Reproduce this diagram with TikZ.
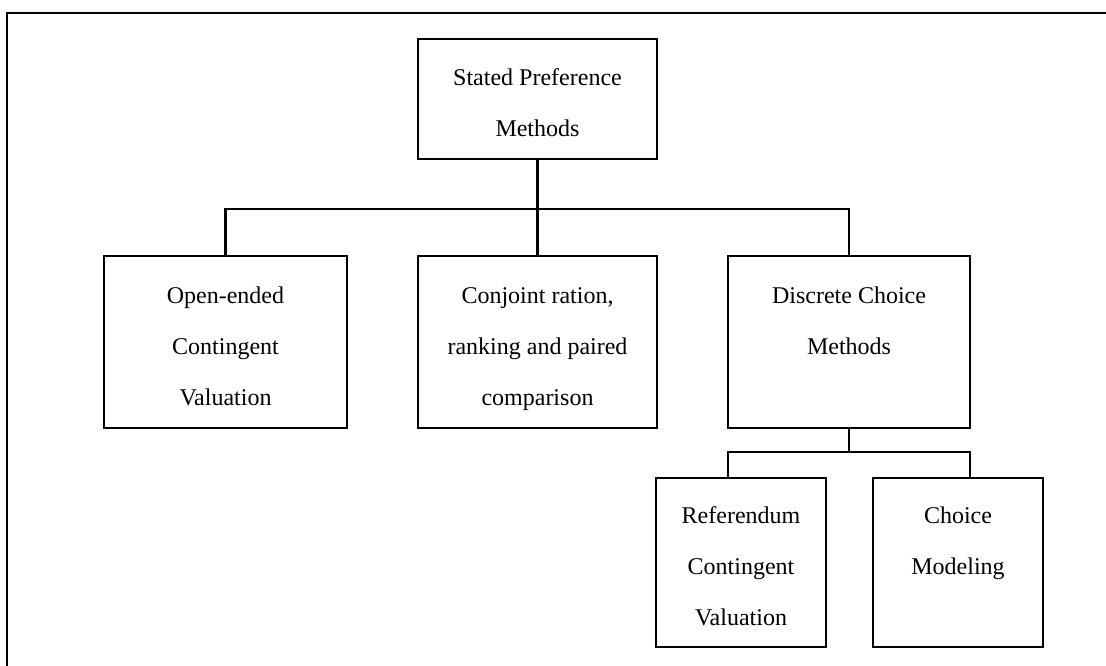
\documentclass[tikz,border=0pt]{standalone}
\usepackage{fontspec}
\setmainfont{Liberation Serif}
\usetikzlibrary{positioning}

\begin{document}
\begin{tikzpicture}[
    x=1pt, y=1pt,
    box/.style={draw, line width=2.2pt, outer sep=0pt, align=center, minimum height=172pt,
      text height=126.5pt, text depth=0pt, font=\fontsize{24}{51}\selectfont},
    link/.style={line width=2.2pt},
  ]
  % Frame
  \useasboundingbox (0,0) rectangle (1106,-666);
  \draw[line width=2.4pt] (7,-670) |- (1110,-13);

  % Root
  \node[box, minimum width=239pt, minimum height=120pt, text height=75.5pt] (spm) at (537.5,-99) {Stated Preference\\Methods};

  % Second level
  \node[box, minimum width=239pt, below=97pt of spm] (conj) {Conjoint ration,\\ranking and paired\\comparison};
  \node[box, minimum width=243pt, left=71pt of conj] (oecv) {Open-ended\\Contingent\\Valuation};
  \node[box, minimum width=242pt, right=71pt of conj] (dcm) {Discrete Choice\\Methods\\\mbox{}};

  % Third level
  \node[box, minimum width=170pt, minimum height=169pt, below=50pt of dcm, xshift=-108pt] (rcv) {Referendum\\Contingent\\Valuation};
  \node[box, minimum width=170pt, minimum height=169pt, right=47pt of rcv] (cmod) {Choice\\Modeling\\\mbox{}};

  % Branch points
  \coordinate[below=50pt of spm] (split);
  \coordinate[below=24pt of dcm] (dsplit);

  % Connectors
  \draw[link] (spm) -- (conj);
  \draw[link] (oecv) |- (split) -| (dcm);
  \draw[link] (dcm) -- (dsplit);
  \draw[link] (rcv.north -| dcm.west) |- (dsplit) -| (cmod.north -| dcm.east);
\end{tikzpicture}
\end{document}
